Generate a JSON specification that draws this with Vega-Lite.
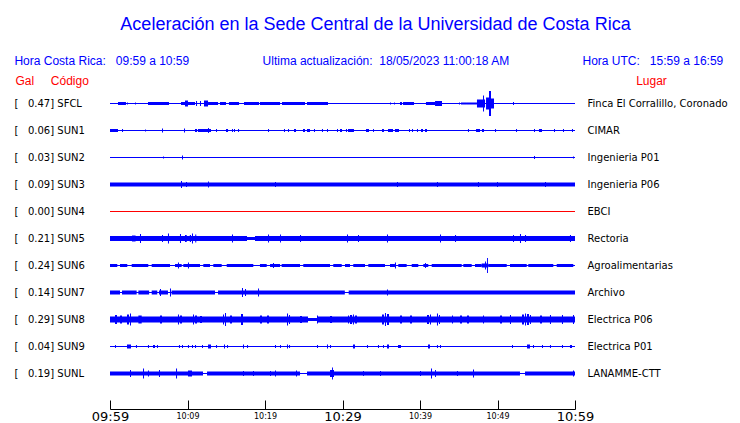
{
"$schema": "https://vega.github.io/schema/vega-lite/v6.json",
"autosize": "none",
"width": 465,
"height": 297,
"padding": {"left": 110, "top": 90, "right": 165, "bottom": 36},
"background": "white",
"config": {"view": {"stroke": null}, "font": "Liberation Sans"},
"title": {
  "text": "Aceleración en la Sede Central de la Universidad de Costa Rica",
  "subtitle": "Hora Costa Rica:\u00a0\u00a0\u00a009:59 a 10:59\u00a0\u00a0\u00a0\u00a0\u00a0\u00a0\u00a0\u00a0\u00a0\u00a0\u00a0\u00a0\u00a0\u00a0\u00a0\u00a0\u00a0\u00a0\u00a0\u00a0\u00a0\u00a0Ultima actualización:\u00a0\u00a018/05/2023 11:00:18 AM\u00a0\u00a0\u00a0\u00a0\u00a0\u00a0\u00a0\u00a0\u00a0\u00a0\u00a0\u00a0\u00a0\u00a0\u00a0\u00a0\u00a0\u00a0\u00a0\u00a0\u00a0\u00a0Hora UTC:\u00a0\u00a0\u00a015:59 a 16:59\u00a0\u00a0\u00a0\u00a0\u200b",
  "anchor": "middle",
  "frame": "group",
  "dx": 33,
  "font": "Liberation Sans",
  "fontSize": 18,
  "fontWeight": "normal",
  "color": "#0000ff",
  "subtitleFont": "Liberation Sans",
  "subtitleFontSize": 12,
  "subtitleColor": "#0000ff",
  "subtitlePadding": 22,
  "offset": 8
},
"datasets": {
  "estaciones": [
    {"orden": 1, "codigo": "SFCL", "gal": 0.47, "lugar": "Finca El Corralillo, Coronado", "estado": "activa"},
    {"orden": 2, "codigo": "SUN1", "gal": 0.06, "lugar": "CIMAR", "estado": "activa"},
    {"orden": 3, "codigo": "SUN2", "gal": 0.03, "lugar": "Ingenieria P01", "estado": "activa"},
    {"orden": 4, "codigo": "SUN3", "gal": 0.09, "lugar": "Ingenieria P06", "estado": "activa"},
    {"orden": 5, "codigo": "SUN4", "gal": 0.00, "lugar": "EBCI", "estado": "sin datos"},
    {"orden": 6, "codigo": "SUN5", "gal": 0.21, "lugar": "Rectoria", "estado": "activa"},
    {"orden": 7, "codigo": "SUN6", "gal": 0.24, "lugar": "Agroalimentarias", "estado": "activa"},
    {"orden": 8, "codigo": "SUN7", "gal": 0.14, "lugar": "Archivo", "estado": "activa"},
    {"orden": 9, "codigo": "SUN8", "gal": 0.29, "lugar": "Electrica P06", "estado": "activa"},
    {"orden": 10, "codigo": "SUN9", "gal": 0.04, "lugar": "Electrica P01", "estado": "activa"},
    {"orden": 11, "codigo": "SUNL", "gal": 0.19, "lugar": "LANAMME-CTT", "estado": "activa"}
  ],
  "trazas": [
    {"codigo":"SFCL","t0":1.03,"t1":2.06,"amp":3},{"codigo":"SFCL","t0":2.19,"t1":2.32,"amp":2},{"codigo":"SFCL","t0":3.23,"t1":3.35,"amp":2},{"codigo":"SFCL","t0":4.9,"t1":7.61,"amp":3},{"codigo":"SFCL","t0":9.16,"t1":10.97,"amp":3},{"codigo":"SFCL","t0":9.68,"t1":10.06,"amp":6},{"codigo":"SFCL","t0":11.1,"t1":11.23,"amp":5},{"codigo":"SFCL","t0":11.61,"t1":11.74,"amp":5},{"codigo":"SFCL","t0":12.13,"t1":12.65,"amp":6},{"codigo":"SFCL","t0":12.65,"t1":13.94,"amp":3},{"codigo":"SFCL","t0":14.19,"t1":14.97,"amp":3},{"codigo":"SFCL","t0":15.35,"t1":16.65,"amp":3},{"codigo":"SFCL","t0":17.29,"t1":19.23,"amp":3},{"codigo":"SFCL","t0":19.35,"t1":21.94,"amp":3},{"codigo":"SFCL","t0":22.19,"t1":25.16,"amp":3},{"codigo":"SFCL","t0":25.42,"t1":28.13,"amp":3},{"codigo":"SFCL","t0":36.13,"t1":36.26,"amp":2},{"codigo":"SFCL","t0":36.65,"t1":36.77,"amp":2},{"codigo":"SFCL","t0":37.42,"t1":37.68,"amp":3},{"codigo":"SFCL","t0":37.81,"t1":39.23,"amp":3},{"codigo":"SFCL","t0":40.77,"t1":41.94,"amp":3},{"codigo":"SFCL","t0":41.94,"t1":42.84,"amp":5},{"codigo":"SFCL","t0":45.03,"t1":45.16,"amp":2},{"codigo":"SFCL","t0":45.29,"t1":46.06,"amp":2},{"codigo":"SFCL","t0":46.06,"t1":47.35,"amp":2},{"codigo":"SFCL","t0":47.35,"t1":48.39,"amp":8},{"codigo":"SFCL","t0":48.13,"t1":48.26,"amp":16},{"codigo":"SFCL","t0":48.52,"t1":48.9,"amp":12},{"codigo":"SFCL","t0":48.9,"t1":49.16,"amp":25},{"codigo":"SFCL","t0":49.16,"t1":49.55,"amp":10},{"codigo":"SFCL","t0":52.0,"t1":52.13,"amp":3},
    {"codigo":"SUN1","t0":0,"t1":1.03,"amp":3},{"codigo":"SUN1","t0":1.55,"t1":1.68,"amp":3},{"codigo":"SUN1","t0":4.52,"t1":4.65,"amp":2},{"codigo":"SUN1","t0":6.71,"t1":6.84,"amp":4},{"codigo":"SUN1","t0":9.55,"t1":9.68,"amp":4},{"codigo":"SUN1","t0":10.97,"t1":11.23,"amp":3},{"codigo":"SUN1","t0":11.35,"t1":13.03,"amp":3},{"codigo":"SUN1","t0":12.65,"t1":12.77,"amp":5},{"codigo":"SUN1","t0":13.68,"t1":13.81,"amp":3},{"codigo":"SUN1","t0":14.97,"t1":15.23,"amp":3},{"codigo":"SUN1","t0":15.74,"t1":15.87,"amp":3},{"codigo":"SUN1","t0":16.0,"t1":16.13,"amp":3},{"codigo":"SUN1","t0":16.52,"t1":16.65,"amp":3},{"codigo":"SUN1","t0":20.39,"t1":20.52,"amp":3},{"codigo":"SUN1","t0":22.45,"t1":22.58,"amp":3},{"codigo":"SUN1","t0":22.97,"t1":23.1,"amp":3},{"codigo":"SUN1","t0":23.74,"t1":24.0,"amp":3},{"codigo":"SUN1","t0":24.9,"t1":25.16,"amp":3},{"codigo":"SUN1","t0":25.42,"t1":25.81,"amp":3},{"codigo":"SUN1","t0":26.32,"t1":26.45,"amp":3},{"codigo":"SUN1","t0":27.35,"t1":27.48,"amp":3},{"codigo":"SUN1","t0":28.0,"t1":28.13,"amp":3},{"codigo":"SUN1","t0":29.29,"t1":29.42,"amp":3},{"codigo":"SUN1","t0":29.68,"t1":29.94,"amp":3},{"codigo":"SUN1","t0":30.45,"t1":30.58,"amp":3},{"codigo":"SUN1","t0":30.71,"t1":31.48,"amp":3},{"codigo":"SUN1","t0":33.03,"t1":33.42,"amp":3},{"codigo":"SUN1","t0":33.94,"t1":34.06,"amp":3},{"codigo":"SUN1","t0":35.1,"t1":35.35,"amp":3},{"codigo":"SUN1","t0":35.87,"t1":36.52,"amp":3},{"codigo":"SUN1","t0":36.77,"t1":37.29,"amp":3},{"codigo":"SUN1","t0":38.58,"t1":38.71,"amp":3},{"codigo":"SUN1","t0":38.97,"t1":39.1,"amp":3},{"codigo":"SUN1","t0":39.61,"t1":39.74,"amp":3},{"codigo":"SUN1","t0":40.13,"t1":40.39,"amp":3},{"codigo":"SUN1","t0":40.65,"t1":40.9,"amp":3},{"codigo":"SUN1","t0":46.19,"t1":46.32,"amp":3},{"codigo":"SUN1","t0":47.23,"t1":47.74,"amp":3},{"codigo":"SUN1","t0":48.0,"t1":48.26,"amp":3},{"codigo":"SUN1","t0":49.68,"t1":49.81,"amp":3},{"codigo":"SUN1","t0":52.39,"t1":52.52,"amp":3},{"codigo":"SUN1","t0":54.71,"t1":54.84,"amp":3},{"codigo":"SUN1","t0":55.35,"t1":55.74,"amp":3},{"codigo":"SUN1","t0":57.29,"t1":57.42,"amp":3},{"codigo":"SUN1","t0":58.45,"t1":58.58,"amp":3},{"codigo":"SUN1","t0":59.61,"t1":59.74,"amp":3},
    {"codigo":"SUN2","t0":6.84,"t1":6.97,"amp":2},{"codigo":"SUN2","t0":9.29,"t1":9.42,"amp":4},{"codigo":"SUN2","t0":54.71,"t1":54.84,"amp":3},{"codigo":"SUN2","t0":59.74,"t1":59.87,"amp":2},
    {"codigo":"SUN3","t0":0,"t1":60,"amp":4},{"codigo":"SUN3","t0":9.16,"t1":9.29,"amp":7},{"codigo":"SUN3","t0":9.81,"t1":9.94,"amp":5},{"codigo":"SUN3","t0":12.65,"t1":12.77,"amp":6},{"codigo":"SUN3","t0":21.29,"t1":21.42,"amp":5},{"codigo":"SUN3","t0":37.03,"t1":37.16,"amp":5},{"codigo":"SUN3","t0":42.19,"t1":42.32,"amp":5},{"codigo":"SUN3","t0":47.48,"t1":47.61,"amp":5},{"codigo":"SUN3","t0":49.94,"t1":50.06,"amp":5},{"codigo":"SUN3","t0":56.13,"t1":56.26,"amp":5},
    {"codigo":"SUN5","t0":0,"t1":17.68,"amp":5},{"codigo":"SUN5","t0":17.68,"t1":18.71,"amp":3},{"codigo":"SUN5","t0":18.71,"t1":60,"amp":5},{"codigo":"SUN5","t0":2.84,"t1":3.3,"amp":6},{"codigo":"SUN5","t0":3.87,"t1":4.0,"amp":9},{"codigo":"SUN5","t0":6.71,"t1":6.84,"amp":7},{"codigo":"SUN5","t0":7.48,"t1":7.61,"amp":10},{"codigo":"SUN5","t0":9.03,"t1":9.16,"amp":9},{"codigo":"SUN5","t0":9.68,"t1":9.9,"amp":7},{"codigo":"SUN5","t0":10.3,"t1":10.45,"amp":7},{"codigo":"SUN5","t0":10.58,"t1":10.71,"amp":10},{"codigo":"SUN5","t0":11.0,"t1":11.13,"amp":8},{"codigo":"SUN5","t0":15.74,"t1":15.87,"amp":8},{"codigo":"SUN5","t0":20.39,"t1":20.52,"amp":8},{"codigo":"SUN5","t0":21.94,"t1":22.06,"amp":8},{"codigo":"SUN5","t0":24.52,"t1":24.65,"amp":7},{"codigo":"SUN5","t0":30.58,"t1":30.71,"amp":8},{"codigo":"SUN5","t0":32.0,"t1":32.13,"amp":7},{"codigo":"SUN5","t0":35.74,"t1":35.87,"amp":8},{"codigo":"SUN5","t0":42.58,"t1":42.71,"amp":8},{"codigo":"SUN5","t0":44.52,"t1":44.65,"amp":7},{"codigo":"SUN5","t0":52.0,"t1":52.13,"amp":7},{"codigo":"SUN5","t0":52.9,"t1":53.03,"amp":9},{"codigo":"SUN5","t0":53.55,"t1":53.68,"amp":7},{"codigo":"SUN5","t0":59.35,"t1":59.48,"amp":7},
    {"codigo":"SUN6","t0":0,"t1":0.94,"amp":3},{"codigo":"SUN6","t0":1.29,"t1":2.23,"amp":3},{"codigo":"SUN6","t0":2.8,"t1":4.94,"amp":3},{"codigo":"SUN6","t0":5.38,"t1":7.74,"amp":3},{"codigo":"SUN6","t0":8.39,"t1":9.25,"amp":3},{"codigo":"SUN6","t0":8.77,"t1":8.9,"amp":6},{"codigo":"SUN6","t0":9.46,"t1":11.61,"amp":3},{"codigo":"SUN6","t0":10.06,"t1":10.19,"amp":6},{"codigo":"SUN6","t0":12.04,"t1":12.9,"amp":3},{"codigo":"SUN6","t0":13.33,"t1":14.41,"amp":3},{"codigo":"SUN6","t0":15.06,"t1":18.49,"amp":3},{"codigo":"SUN6","t0":19.35,"t1":20.22,"amp":3},{"codigo":"SUN6","t0":20.65,"t1":21.94,"amp":3},{"codigo":"SUN6","t0":21.03,"t1":21.16,"amp":5},{"codigo":"SUN6","t0":22.15,"t1":24.52,"amp":3},{"codigo":"SUN6","t0":24.94,"t1":28.39,"amp":3},{"codigo":"SUN6","t0":28.81,"t1":29.9,"amp":3},{"codigo":"SUN6","t0":30.32,"t1":30.97,"amp":3},{"codigo":"SUN6","t0":31.39,"t1":32.9,"amp":3},{"codigo":"SUN6","t0":33.33,"t1":35.48,"amp":3},{"codigo":"SUN6","t0":36.13,"t1":36.77,"amp":3},{"codigo":"SUN6","t0":36.77,"t1":36.9,"amp":6},{"codigo":"SUN6","t0":37.2,"t1":38.28,"amp":3},{"codigo":"SUN6","t0":38.93,"t1":39.78,"amp":3},{"codigo":"SUN6","t0":40.43,"t1":41.07,"amp":3},{"codigo":"SUN6","t0":40.65,"t1":40.77,"amp":5},{"codigo":"SUN6","t0":41.51,"t1":45.38,"amp":3},{"codigo":"SUN6","t0":45.59,"t1":46.67,"amp":3},{"codigo":"SUN6","t0":47.1,"t1":47.96,"amp":3},{"codigo":"SUN6","t0":47.96,"t1":48.81,"amp":4},{"codigo":"SUN6","t0":48.39,"t1":48.52,"amp":8},{"codigo":"SUN6","t0":48.65,"t1":48.77,"amp":15},{"codigo":"SUN6","t0":48.81,"t1":51.19,"amp":3},{"codigo":"SUN6","t0":51.61,"t1":53.77,"amp":3},{"codigo":"SUN6","t0":53.97,"t1":57.2,"amp":3},{"codigo":"SUN6","t0":57.64,"t1":59.78,"amp":3},
    {"codigo":"SUN7","t0":0,"t1":1.29,"amp":4},{"codigo":"SUN7","t0":1.55,"t1":3.44,"amp":4},{"codigo":"SUN7","t0":3.66,"t1":5.05,"amp":4},{"codigo":"SUN7","t0":5.38,"t1":6.1,"amp":4},{"codigo":"SUN7","t0":6.32,"t1":7.48,"amp":4},{"codigo":"SUN7","t0":7.94,"t1":13.55,"amp":4},{"codigo":"SUN7","t0":13.94,"t1":30.3,"amp":4},{"codigo":"SUN7","t0":30.8,"t1":60,"amp":4},{"codigo":"SUN7","t0":6.45,"t1":6.58,"amp":7},{"codigo":"SUN7","t0":7.74,"t1":7.87,"amp":8},{"codigo":"SUN7","t0":17.03,"t1":17.16,"amp":9},{"codigo":"SUN7","t0":17.42,"t1":17.55,"amp":7},{"codigo":"SUN7","t0":19.1,"t1":19.23,"amp":8},{"codigo":"SUN7","t0":35.74,"t1":35.87,"amp":6},
    {"codigo":"SUN8","t0":0,"t1":25.55,"amp":6},{"codigo":"SUN8","t0":25.55,"t1":26.71,"amp":3},{"codigo":"SUN8","t0":26.71,"t1":60,"amp":6},{"codigo":"SUN8","t0":0.65,"t1":0.9,"amp":9},{"codigo":"SUN8","t0":2.19,"t1":2.45,"amp":10},{"codigo":"SUN8","t0":2.58,"t1":2.71,"amp":12},{"codigo":"SUN8","t0":3.66,"t1":4.09,"amp":8},{"codigo":"SUN8","t0":8.77,"t1":8.9,"amp":10},{"codigo":"SUN8","t0":9.03,"t1":9.29,"amp":8},{"codigo":"SUN8","t0":10.71,"t1":10.84,"amp":10},{"codigo":"SUN8","t0":10.97,"t1":11.23,"amp":8},{"codigo":"SUN8","t0":14.58,"t1":14.71,"amp":10},{"codigo":"SUN8","t0":14.84,"t1":14.97,"amp":13},{"codigo":"SUN8","t0":16.9,"t1":17.16,"amp":11},{"codigo":"SUN8","t0":22.84,"t1":22.97,"amp":12},{"codigo":"SUN8","t0":23.1,"t1":23.23,"amp":9},{"codigo":"SUN8","t0":26.71,"t1":26.84,"amp":8},{"codigo":"SUN8","t0":30.71,"t1":30.84,"amp":8},{"codigo":"SUN8","t0":30.97,"t1":31.23,"amp":9},{"codigo":"SUN8","t0":31.35,"t1":31.48,"amp":10},{"codigo":"SUN8","t0":31.61,"t1":31.87,"amp":8},{"codigo":"SUN8","t0":35.1,"t1":35.35,"amp":10},{"codigo":"SUN8","t0":35.48,"t1":35.61,"amp":13},{"codigo":"SUN8","t0":35.74,"t1":36.0,"amp":11},{"codigo":"SUN8","t0":40.9,"t1":41.16,"amp":9},{"codigo":"SUN8","t0":41.29,"t1":41.42,"amp":10},{"codigo":"SUN8","t0":42.19,"t1":42.32,"amp":12},{"codigo":"SUN8","t0":42.45,"t1":42.58,"amp":9},{"codigo":"SUN8","t0":44.13,"t1":44.26,"amp":8},{"codigo":"SUN8","t0":48.13,"t1":48.26,"amp":8},{"codigo":"SUN8","t0":51.61,"t1":51.74,"amp":9},{"codigo":"SUN8","t0":53.16,"t1":53.42,"amp":10},{"codigo":"SUN8","t0":53.55,"t1":53.68,"amp":12},{"codigo":"SUN8","t0":53.81,"t1":54.06,"amp":11},{"codigo":"SUN8","t0":54.19,"t1":54.32,"amp":9},{"codigo":"SUN8","t0":56.77,"t1":56.9,"amp":9},{"codigo":"SUN8","t0":58.32,"t1":58.45,"amp":9},{"codigo":"SUN8","t0":59.74,"t1":59.87,"amp":9},{"codigo":"SUN8","t0":1.29,"t1":1.55,"amp":8},{"codigo":"SUN8","t0":6.45,"t1":6.71,"amp":8},{"codigo":"SUN8","t0":11.61,"t1":11.87,"amp":7},{"codigo":"SUN8","t0":15.48,"t1":15.74,"amp":8},{"codigo":"SUN8","t0":19.35,"t1":19.61,"amp":8},{"codigo":"SUN8","t0":20.26,"t1":20.52,"amp":8},{"codigo":"SUN8","t0":24.52,"t1":24.77,"amp":7},{"codigo":"SUN8","t0":28.39,"t1":28.65,"amp":7},{"codigo":"SUN8","t0":37.42,"t1":37.68,"amp":8},{"codigo":"SUN8","t0":38.71,"t1":38.97,"amp":8},{"codigo":"SUN8","t0":45.16,"t1":45.42,"amp":8},{"codigo":"SUN8","t0":46.06,"t1":46.32,"amp":8},{"codigo":"SUN8","t0":50.32,"t1":50.58,"amp":8},{"codigo":"SUN8","t0":55.48,"t1":55.74,"amp":8},
    {"codigo":"SUN9","t0":0.65,"t1":0.77,"amp":3},{"codigo":"SUN9","t0":2.19,"t1":2.71,"amp":4},{"codigo":"SUN9","t0":3.35,"t1":3.48,"amp":3},{"codigo":"SUN9","t0":4.9,"t1":5.03,"amp":3},{"codigo":"SUN9","t0":5.55,"t1":5.81,"amp":3},{"codigo":"SUN9","t0":6.06,"t1":6.19,"amp":3},{"codigo":"SUN9","t0":8.9,"t1":9.03,"amp":3},{"codigo":"SUN9","t0":9.29,"t1":9.42,"amp":3},{"codigo":"SUN9","t0":10.06,"t1":10.19,"amp":3},{"codigo":"SUN9","t0":10.58,"t1":10.71,"amp":3},{"codigo":"SUN9","t0":10.97,"t1":11.1,"amp":3},{"codigo":"SUN9","t0":11.87,"t1":12.0,"amp":3},{"codigo":"SUN9","t0":12.65,"t1":13.03,"amp":4},{"codigo":"SUN9","t0":13.68,"t1":13.81,"amp":3},{"codigo":"SUN9","t0":14.71,"t1":14.84,"amp":4},{"codigo":"SUN9","t0":15.1,"t1":15.23,"amp":3},{"codigo":"SUN9","t0":17.16,"t1":17.29,"amp":4},{"codigo":"SUN9","t0":17.68,"t1":17.81,"amp":3},{"codigo":"SUN9","t0":21.29,"t1":21.42,"amp":3},{"codigo":"SUN9","t0":21.94,"t1":22.06,"amp":3},{"codigo":"SUN9","t0":22.84,"t1":22.97,"amp":4},{"codigo":"SUN9","t0":23.1,"t1":23.23,"amp":3},{"codigo":"SUN9","t0":26.71,"t1":26.84,"amp":3},{"codigo":"SUN9","t0":28.0,"t1":28.13,"amp":4},{"codigo":"SUN9","t0":28.39,"t1":28.52,"amp":3},{"codigo":"SUN9","t0":31.35,"t1":31.61,"amp":4},{"codigo":"SUN9","t0":33.16,"t1":33.29,"amp":3},{"codigo":"SUN9","t0":34.58,"t1":34.71,"amp":3},{"codigo":"SUN9","t0":35.23,"t1":35.35,"amp":3},{"codigo":"SUN9","t0":35.74,"t1":36.0,"amp":4},{"codigo":"SUN9","t0":37.16,"t1":37.55,"amp":3},{"codigo":"SUN9","t0":41.03,"t1":41.29,"amp":4},{"codigo":"SUN9","t0":42.19,"t1":42.32,"amp":3},{"codigo":"SUN9","t0":42.58,"t1":42.71,"amp":3},{"codigo":"SUN9","t0":51.87,"t1":52.0,"amp":3},{"codigo":"SUN9","t0":53.81,"t1":54.19,"amp":4},{"codigo":"SUN9","t0":54.58,"t1":54.71,"amp":3},{"codigo":"SUN9","t0":55.74,"t1":55.87,"amp":3},{"codigo":"SUN9","t0":56.77,"t1":56.9,"amp":3},{"codigo":"SUN9","t0":58.32,"t1":58.45,"amp":3},{"codigo":"SUN9","t0":59.35,"t1":59.61,"amp":3},
    {"codigo":"SUNL","t0":0,"t1":12.0,"amp":4},{"codigo":"SUNL","t0":12.52,"t1":24.52,"amp":4},{"codigo":"SUNL","t0":25.42,"t1":52.9,"amp":4},{"codigo":"SUNL","t0":53.55,"t1":60,"amp":4},{"codigo":"SUNL","t0":2.58,"t1":2.71,"amp":7},{"codigo":"SUNL","t0":4.26,"t1":4.39,"amp":10},{"codigo":"SUNL","t0":4.9,"t1":5.03,"amp":6},{"codigo":"SUNL","t0":6.32,"t1":6.45,"amp":7},{"codigo":"SUNL","t0":8.52,"t1":8.65,"amp":10},{"codigo":"SUNL","t0":10.06,"t1":10.58,"amp":6},{"codigo":"SUNL","t0":17.16,"t1":17.29,"amp":5},{"codigo":"SUNL","t0":18.45,"t1":18.58,"amp":5},{"codigo":"SUNL","t0":20.65,"t1":20.77,"amp":5},{"codigo":"SUNL","t0":21.29,"t1":21.42,"amp":6},{"codigo":"SUNL","t0":24.0,"t1":24.13,"amp":6},{"codigo":"SUNL","t0":28.39,"t1":28.9,"amp":7},{"codigo":"SUNL","t0":28.65,"t1":28.77,"amp":12},{"codigo":"SUNL","t0":32.65,"t1":32.77,"amp":5},{"codigo":"SUNL","t0":34.84,"t1":34.97,"amp":5},{"codigo":"SUNL","t0":40.0,"t1":40.13,"amp":5},{"codigo":"SUNL","t0":41.42,"t1":41.55,"amp":10},{"codigo":"SUNL","t0":41.94,"t1":42.06,"amp":7},{"codigo":"SUNL","t0":44.77,"t1":44.9,"amp":5},{"codigo":"SUNL","t0":46.84,"t1":46.97,"amp":8},{"codigo":"SUNL","t0":59.74,"t1":59.87,"amp":6}
  ]
},
"layer": [
  {
    "layer": [
      {
        "data": {"name": "estaciones"},
        "transform": [{"calculate": "'[\u00a0\u00a0\u00a0' + format(datum.gal, '.2f') + '] ' + datum.codigo", "as": "etiqueta"}],
        "mark": {"type": "rule", "strokeWidth": 1},
        "encoding": {
          "y": {"field": "etiqueta", "type": "nominal", "sort": {"field": "orden", "op": "min"},
                "scale": {"type": "point", "padding": 0.5},
                "axis": {"orient": "left", "domain": false, "ticks": false, "grid": false,
                         "labelAlign": "left", "labelBaseline": "middle", "labelPadding": 96,
                         "labelFont": "DejaVu Sans", "labelFontSize": 10, "labelColor": "black", "labelLimit": 0,
                         "title": "Gal\u00a0\u00a0\u00a0\u00a0\u00a0Código", "titleAngle": 0, "titleAlign": "left",
                         "titleBaseline": "alphabetic", "titleX": -95, "titleY": -5.5,
                         "titleColor": "#ff0000", "titleFont": "Liberation Sans", "titleFontSize": 12, "titleFontWeight": "normal"}},
          "x": {"datum": 0, "type": "quantitative", "scale": {"domain": [0, 60], "nice": false, "zero": false},
                "title": null,
                "axis": {"orient": "bottom", "offset": 22, "values": [0,5,10,15,20,25,30,35,40,45,50,55,60],
                         "labelExpr": "datum.value % 10 == 0 ? timeFormat(datetime(2023, 4, 18, 9, 59 + datum.value), '%H:%M') : ''",
                         "labelFont": "DejaVu Sans",
                         "labelFontSize": {"condition": {"test": "datum.value % 30 == 0", "value": 13}, "value": 8},
                         "labelColor": "black", "labelBaseline": "middle", "labelPadding": 16,
                         "labelFlush": false, "labelOverlap": false, "labelBound": false,
                         "tickSize": -9, "tickColor": "black", "domainColor": "black", "domainWidth": 1, "tickWidth": 1, "grid": false, "title": null}},
          "x2": {"datum": 60},
          "color": {"field": "estado", "type": "nominal",
                    "scale": {"domain": ["activa", "sin datos"], "range": ["#0000ff", "#ff0000"]}, "legend": null}
        }
      },
      {
        "data": {"name": "trazas"},
        "transform": [
          {"lookup": "codigo", "from": {"data": {"name": "estaciones"}, "key": "codigo", "fields": ["gal", "orden"]}},
          {"calculate": "'[\u00a0\u00a0\u00a0' + format(datum.gal, '.2f') + '] ' + datum.codigo", "as": "etiqueta"}
        ],
        "mark": {"type": "bar", "opacity": 1, "color": "#0000ff"},
        "encoding": {
          "y": {"field": "etiqueta", "type": "nominal", "sort": {"field": "orden", "op": "min"},
                "scale": {"type": "point", "padding": 0.5}},
          "x": {"field": "t0", "type": "quantitative", "title": null},
          "x2": {"field": "t1"},
          "size": {"field": "amp", "type": "quantitative",
                   "scale": {"type": "linear", "domain": [0, 25], "range": [0, 25], "zero": true}, "legend": null}
        }
      }
    ]
  },
  {
    "data": {"name": "estaciones"},
    "mark": {"type": "rule", "opacity": 0},
    "encoding": {
      "y": {"field": "lugar", "type": "nominal", "sort": {"field": "orden", "op": "min"},
            "scale": {"type": "point", "padding": 0.5},
            "axis": {"orient": "right", "domain": false, "ticks": false, "grid": false,
                     "labelAlign": "left", "labelBaseline": "middle", "labelPadding": 12,
                     "labelFont": "DejaVu Sans", "labelFontSize": 10, "labelColor": "black", "labelLimit": 0,
                     "title": "Lugar", "titleAngle": 0, "titleAlign": "center", "titleBaseline": "alphabetic",
                     "titleX": 76, "titleY": -5.5, "titleColor": "#ff0000", "titleFont": "Liberation Sans",
                     "titleFontSize": 12, "titleFontWeight": "normal"}},
      "x": {"datum": 0, "type": "quantitative", "title": null},
      "x2": {"datum": 60}
    }
  }
],
"resolve": {"scale": {"y": "independent"}, "axis": {"y": "independent"}}
}
